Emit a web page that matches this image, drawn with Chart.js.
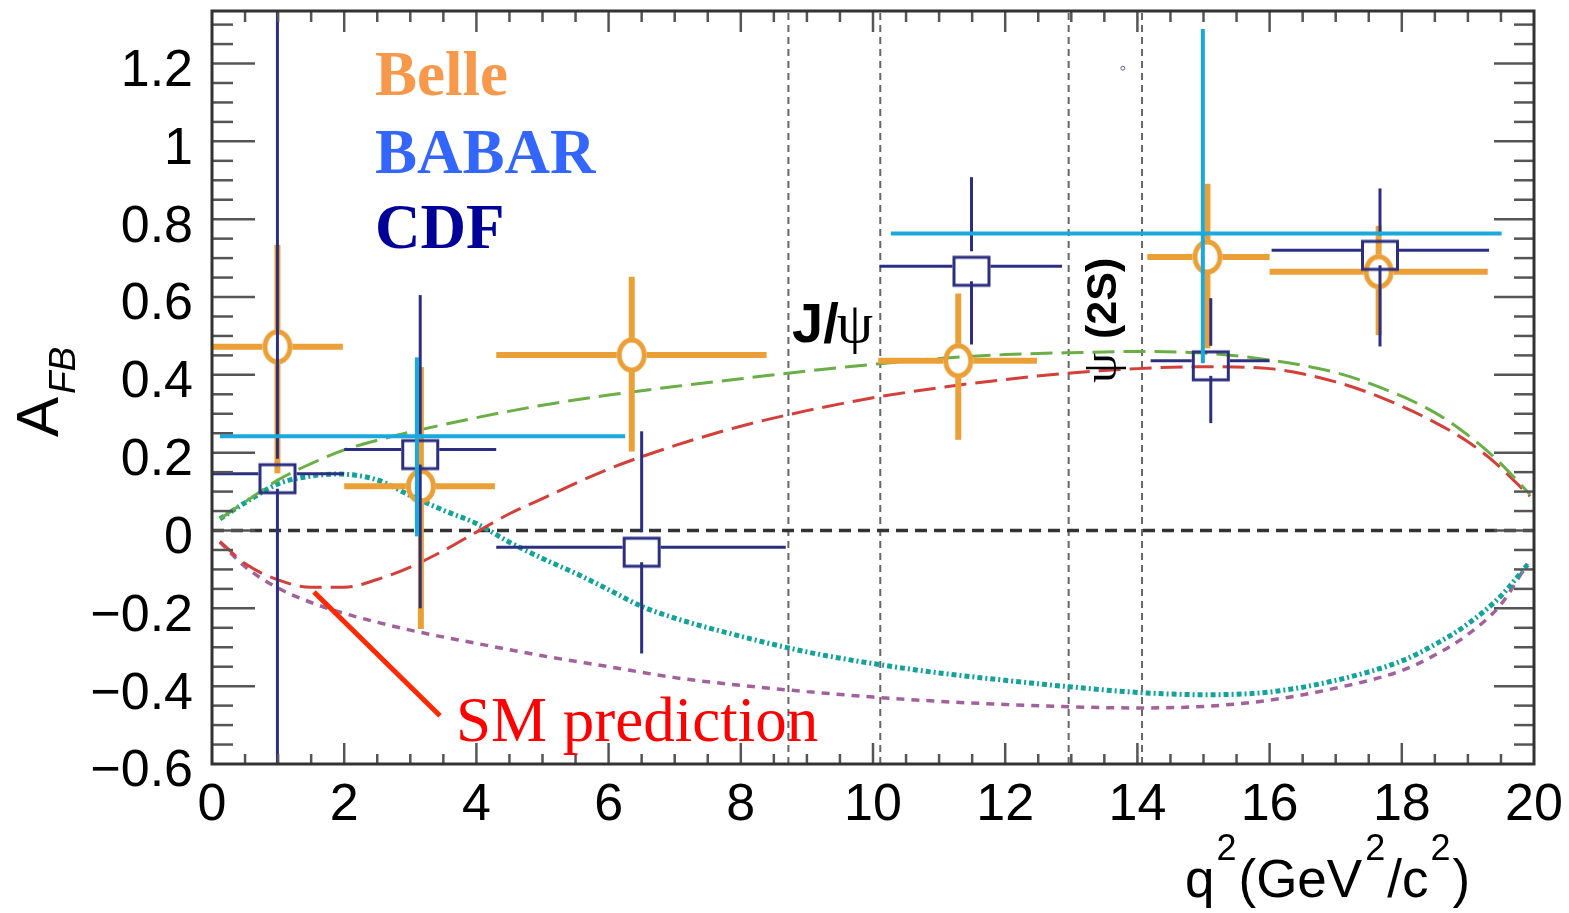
<!DOCTYPE html>
<html>
<head>
<meta charset="utf-8">
<script src="https://cdn.jsdelivr.net/npm/chart.js@4.4.1/dist/chart.umd.min.js"></script>
<style>
html,body{margin:0;padding:0;background:#ffffff;}
#wrap{width:1569px;height:913px;position:relative;}
canvas{display:block;}
</style>
</head>
<body>
<div id="wrap"><canvas id="c" width="1569" height="913"></canvas></div>
<script>
// ---------- axis ticks ----------
const xTicks = [0, 2, 4, 6, 8, 10, 12, 14, 16, 18, 20];
const xTickLabels = ['0', '2', '4', '6', '8', '10', '12', '14', '16', '18', '20'];
const yTicks = [-0.6, -0.4, -0.2, 0, 0.2, 0.4, 0.6, 0.8, 1.0, 1.2];
const yTickLabels = ['\u22120.6', '\u22120.4', '\u22120.2', '0', '0.2', '0.4', '0.6', '0.8', '1', '1.2'];

// ---------- Belle ----------
const belleX   = [0.99, 3.16, 6.35, 11.29, 15.06, 17.65];
const belleY   = [0.472, 0.114, 0.451, 0.436, 0.703, 0.665];
const belleXlo = [0.0, 2.0, 4.3, 10.08, 14.15, 16.0];
const belleXhi = [1.98, 4.28, 8.39, 12.48, 16.0, 19.3];
const belleYlo = [0.147, -0.253, 0.203, 0.233, 0.468, 0.502];
const belleYhi = [0.734, 0.42, 0.652, 0.609, 0.891, 0.783];

// ---------- CDF ----------
const cdfX   = [0.99, 3.15, 6.5, 11.49, 15.11, 17.67];
const cdfY   = [0.146, 0.208, -0.043, 0.679, 0.436, 0.72];
const cdfXlo = [0.0, 2.0, 4.3, 10.1, 14.2, 16.03];
const cdfXhi = [2.0, 4.3, 8.68, 12.86, 16.0, 19.32];
const cdfYlo = [-1.6, -0.2, -0.316, 0.478, 0.276, 0.473];
const cdfYhi = [1.7, 0.605, 0.255, 0.908, 0.597, 0.879];

// ---------- BABAR ----------
const babarX   = [3.1, 14.99];
const babarY   = [0.242, 0.763];
const babarXlo = [0.12, 10.27];
const babarXhi = [6.25, 19.51];
const babarYlo = [-0.015, 0.43];
const babarYhi = [0.445, 1.289];

// ---------- theory curves ----------
const greenX = [0.12,0.6,1.0,1.5,2.0,2.5,3.0,4.0,5.0,6.0,7.0,8.0,9.0,10.0,11.0,12.0,13.0,14.0,15.0,16.0,17.0,17.7,18.5,19.0,19.4,19.94];
const greenY = [0.03,0.085,0.13,0.172,0.207,0.232,0.253,0.29,0.322,0.348,0.37,0.39,0.41,0.427,0.442,0.452,0.457,0.46,0.456,0.438,0.406,0.366,0.303,0.245,0.188,0.093];

const redX = [0.12,0.5,1.0,1.5,2.0,2.5,3.0,3.5,4.0,4.5,5.0,6.0,7.0,8.0,9.0,10.0,11.0,12.0,13.0,14.0,15.0,16.0,17.0,17.7,18.5,19.0,19.4,19.94];
const redY = [-0.028,-0.085,-0.127,-0.146,-0.146,-0.126,-0.094,-0.052,-0.004,0.043,0.082,0.158,0.218,0.268,0.308,0.341,0.367,0.388,0.405,0.416,0.421,0.416,0.382,0.341,0.278,0.228,0.176,0.088];

const purpleX = [0.12,0.5,1.0,1.5,2.0,3.0,4.0,5.0,6.0,7.0,8.0,9.0,10.0,11.0,12.0,13.0,14.0,15.0,16.0,17.0,18.0,18.5,19.0,19.5,19.9];
const purpleY = [-0.03,-0.093,-0.148,-0.185,-0.213,-0.256,-0.29,-0.322,-0.35,-0.378,-0.398,-0.414,-0.428,-0.439,-0.447,-0.453,-0.456,-0.452,-0.436,-0.405,-0.36,-0.32,-0.267,-0.19,-0.085];

const tealX = [0.12,0.6,1.0,1.5,1.9,2.5,3.0,3.5,4.0,4.5,5.0,5.5,6.0,6.5,7.0,8.0,9.0,10.0,11.0,12.0,13.0,14.0,15.0,16.0,17.0,18.0,18.5,19.0,19.5,19.9];
const tealY = [0.03,0.082,0.12,0.14,0.145,0.13,0.09,0.052,0.018,-0.03,-0.072,-0.11,-0.152,-0.195,-0.225,-0.272,-0.312,-0.342,-0.366,-0.385,-0.402,-0.416,-0.422,-0.415,-0.385,-0.335,-0.293,-0.24,-0.168,-0.088];

// ---------- reference lines ----------
const vetoX = [8.72, 10.11, 12.96, 14.07];
const zeroLineX = [0, 20];
const zeroLineY = [0, 0];
const strayX = [13.78];
const strayY = [1.188];

// ---------- styles ----------
const BELLE_C = '#eba037';
const CDF_C = '#2c2f80';
const BABAR_C = '#1aa8dd';
const Y_MIN = -0.6, Y_MAX = 1.335, X_MIN = 0, X_MAX = 20;

function ellipseMarker(rx, ry, lw, color) {
  const c = document.createElement('canvas');
  c.width = 2 * Math.ceil(rx + lw) + 2;
  c.height = 2 * Math.ceil(ry + lw) + 2;
  const g = c.getContext('2d');
  g.strokeStyle = color; g.lineWidth = lw;
  g.beginPath(); g.ellipse(c.width / 2, c.height / 2, rx, ry, 0, 0, Math.PI * 2); g.stroke();
  return c;
}
function boxMarker(w, h, lw, off, color) {
  const c = document.createElement('canvas');
  c.width = 2 * Math.ceil(w / 2 + lw) + 2;
  c.height = 2 * Math.ceil(h / 2 + lw + off) + 2;
  const g = c.getContext('2d');
  g.strokeStyle = color; g.lineWidth = lw;
  g.strokeRect(c.width / 2 - w / 2, c.height / 2 + off - h / 2, w, h);
  return c;
}

function pts(xs, ys) { return xs.map((x, i) => ({ x: x, y: ys[i] })); }
function errPts(xs, ys, xlo, xhi, ylo, yhi) {
  return xs.map((x, i) => ({ x: x, y: ys[i], xlo: xlo[i], xhi: xhi[i], ylo: ylo[i], yhi: yhi[i] }));
}

const errorBarPlugin = {
  id: 'errbars',
  beforeDatasetDraw(chart, args) {
    const ds = chart.data.datasets[args.index];
    const eb = ds.errorBars;
    if (!eb) return;
    const xs = chart.scales.x, ys = chart.scales.y, a = chart.chartArea, ctx = chart.ctx;
    ctx.save();
    ctx.beginPath(); ctx.rect(a.left, a.top, a.right - a.left, a.bottom - a.top); ctx.clip();
    ctx.strokeStyle = ds.borderColor; ctx.lineWidth = eb.width; ctx.lineCap = 'butt';
    const seg = (x1, y1, x2, y2) => { ctx.beginPath(); ctx.moveTo(x1, y1); ctx.lineTo(x2, y2); ctx.stroke(); };
    ds.data.forEach(p => {
      const px = xs.getPixelForValue(p.x), py = ys.getPixelForValue(p.y);
      const xl = xs.getPixelForValue(p.xlo), xh = xs.getPixelForValue(p.xhi);
      const yl = ys.getPixelForValue(p.ylo), yh = ys.getPixelForValue(p.yhi);
      if (px - eb.gapX > xl) seg(xl, py, px - eb.gapX, py);
      if (xh > px + eb.gapX) seg(px + eb.gapX, py, xh, py);
      if (py - eb.gapY > yh) seg(px, yh, px, py - eb.gapY);
      if (yl > py + eb.gapY) seg(px, py + eb.gapY, px, yl);
    });
    ctx.restore();
  }
};

const framePlugin = {
  id: 'rootframe',
  afterDatasetsDraw(chart) {
    const ctx = chart.ctx, a = chart.chartArea, xs = chart.scales.x, ys = chart.scales.y;
    ctx.save();
    ctx.strokeStyle = '#555'; ctx.lineWidth = 2.5; ctx.lineCap = 'butt';
    const seg = (x1, y1, x2, y2) => { ctx.beginPath(); ctx.moveTo(x1, y1); ctx.lineTo(x2, y2); ctx.stroke(); };
    for (let k = 1; k < 40; k++) {
      const v = k * 0.5, px = xs.getPixelForValue(v);
      const major = (k % 4 === 0);
      seg(px, a.bottom, px, a.bottom - (major ? 21 : 10));
      seg(px, a.top, px, a.top + (major ? 21 : 11));
    }
    for (let k = 1; k <= 38; k++) {
      const v = -0.6 + k * 0.05, py = ys.getPixelForValue(v);
      const major = (k % 4 === 0);
      seg(a.left, py, a.left + (major ? 43 : 21), py);
      seg(a.right, py, a.right - (major ? 40 : 20), py);
    }
    ctx.strokeStyle = '#333'; ctx.lineWidth = 3;
    ctx.strokeRect(a.left, a.top, a.right - a.left, a.bottom - a.top);
    ctx.restore();
  }
};

const textPlugin = {
  id: 'texts',
  afterDraw(chart) {
    const ctx = chart.ctx, xs = chart.scales.x, ys = chart.scales.y;
    const X = v => xs.getPixelForValue(v), Y = v => ys.getPixelForValue(v);
    ctx.save();
    ctx.textAlign = 'left'; ctx.textBaseline = 'alphabetic';
    // legend words
    ctx.font = 'bold 63px "Liberation Serif"';
    ctx.fillStyle = '#f7984a'; ctx.fillText('Belle', 375, 95);
    ctx.fillStyle = '#3366ff'; ctx.fillText('BABAR', 375, 173);
    ctx.fillStyle = '#000099'; ctx.fillText('CDF', 375, 248);
    // SM prediction pointer
    ctx.strokeStyle = '#ff2a00'; ctx.lineWidth = 5; ctx.lineCap = 'butt';
    ctx.beginPath(); ctx.moveTo(X(1.543), Y(-0.158)); ctx.lineTo(X(3.449), Y(-0.476)); ctx.stroke();
    ctx.fillStyle = '#ff0000'; ctx.font = '63px "Liberation Serif"';
    ctx.fillText('SM prediction', 456, 741);
    // J/psi
    ctx.fillStyle = '#000';
    ctx.font = 'bold 56px "Liberation Sans"';
    ctx.fillText('J/', 792, 342);
    const wj = ctx.measureText('J/').width;
    ctx.font = '58px "Liberation Serif"';
    ctx.fillText('\u03C8', 792 + wj - 2, 342);
    // psi(2S) rotated
    ctx.save();
    ctx.translate(1116, 383); ctx.rotate(-Math.PI / 2);
    ctx.font = '48px "Liberation Serif"'; ctx.fillText('\u03C8', 0, 0);
    ctx.font = 'bold 43px "Liberation Sans"'; ctx.fillText('(2S)', 44, 0);
    ctx.restore();
    // y title
    ctx.save();
    ctx.translate(58, 437); ctx.rotate(-Math.PI / 2);
    ctx.font = '60px "Liberation Sans"'; ctx.fillText('A', 0, 0);
    const wa = ctx.measureText('A').width;
    ctx.font = 'italic 37px "Liberation Sans"'; ctx.fillText('FB', wa + 3, 17);
    ctx.restore();
    // x title  q^2(GeV^2/c^2)
    const mainF = '53px "Liberation Sans"', supF = '36px "Liberation Sans"';
    const base = 897, supBase = 860;
    const parts = [['q', 0, 2], ['2', 1, 2], ['(GeV', 0, 3], ['2', 1, 2], ['/c', 0, 2], ['2', 1, 2], [')', 0, 0]];
    let cx = 1185;
    parts.forEach(([t, sup, g]) => {
      ctx.font = sup ? supF : mainF;
      ctx.fillText(t, cx, sup ? supBase : base);
      cx += ctx.measureText(t).width + g;
    });
    ctx.restore();
  }
};

const lineDs = (xs, ys, color, width, dash, order) => ({
  data: pts(xs, ys), showLine: true, pointRadius: 0, borderColor: color, borderWidth: width,
  borderDash: dash, fill: false, tension: 0.4, cubicInterpolationMode: 'monotone', order: order
});

const datasets = [];
vetoX.forEach(v => datasets.push({
  data: pts([v, v], [Y_MIN, Y_MAX]), showLine: true, pointRadius: 0, borderColor: '#666',
  borderWidth: 2, borderDash: [7, 5], tension: 0, order: 60
}));
datasets.push({
  data: pts(zeroLineX, zeroLineY), showLine: true, pointRadius: 0, borderColor: '#333',
  borderWidth: 3.5, borderDash: [12, 7], tension: 0, order: 55
});
datasets.push(lineDs(purpleX, purpleY, '#a3619c', 3.5, [8, 7], 44));
datasets.push(lineDs(tealX, tealY, '#13a39b', 5, [5, 3, 2, 3], 43));
datasets.push(lineDs(redX, redY, '#d43f3a', 3, [22, 9], 42));
datasets.push(lineDs(greenX, greenY, '#6aae46', 3, [22, 9], 41));
datasets.push({
  label: 'Belle', data: errPts(belleX, belleY, belleXlo, belleXhi, belleYlo, belleYhi),
  showLine: false, pointStyle: ellipseMarker(12.5, 15, 5, BELLE_C), pointRadius: 10,
  borderColor: BELLE_C, errorBars: { width: 6, gapX: 15, gapY: 17 }, order: 30
});
datasets.push({
  label: 'CDF', data: errPts(cdfX, cdfY, cdfXlo, cdfXhi, cdfYlo, cdfYhi),
  showLine: false, pointStyle: boxMarker(35, 28, 3, 5, CDF_C), pointRadius: 10,
  borderColor: CDF_C, errorBars: { width: 3, gapX: 19, gapY: 15 }, order: 20
});
datasets.push({
  label: 'BABAR', data: errPts(babarX, babarY, babarXlo, babarXhi, babarYlo, babarYhi),
  showLine: false, pointRadius: 0, borderColor: BABAR_C, errorBars: { width: 4, gapX: 0, gapY: 0 }, order: 10
});
datasets.push({
  data: pts(strayX, strayY), showLine: false, pointRadius: 2, pointStyle: 'circle',
  borderColor: '#5a5a9a', backgroundColor: '#ffffff', borderWidth: 1, order: 5
});

new Chart(document.getElementById('c'), {
  type: 'scatter',
  data: { datasets: datasets },
  options: {
    responsive: false,
    animation: false,
    events: [],
    layout: { padding: { top: 9, right: 35, bottom: 0, left: 0 } },
    plugins: { legend: { display: false }, tooltip: { enabled: false }, title: { display: false } },
    scales: {
      x: {
        type: 'linear', min: X_MIN, max: X_MAX,
        grid: { display: false, drawTicks: false }, border: { display: false },
        afterBuildTicks: s => { s.ticks = xTicks.map(v => ({ value: v })); },
        afterFit: s => { s.height = 149; s.paddingLeft = 0; s.paddingRight = 0; },
        ticks: {
          autoSkip: false, maxRotation: 0, padding: 10, color: '#000',
          font: { family: 'Liberation Sans', size: 52 },
          callback: (v, i) => xTickLabels[i]
        }
      },
      y: {
        type: 'linear', min: Y_MIN, max: Y_MAX,
        grid: { display: false, drawTicks: false }, border: { display: false },
        afterBuildTicks: s => { s.ticks = yTicks.map(v => ({ value: v })); },
        afterFit: s => { s.width = 212; s.paddingTop = 0; s.paddingBottom = 0; },
        ticks: {
          autoSkip: false, padding: 19, color: '#000', labelOffset: 8,
          font: { family: 'Liberation Sans', size: 52 },
          callback: (v, i) => yTickLabels[i]
        }
      }
    }
  },
  plugins: [errorBarPlugin, framePlugin, textPlugin]
});
</script>
</body>
</html>
